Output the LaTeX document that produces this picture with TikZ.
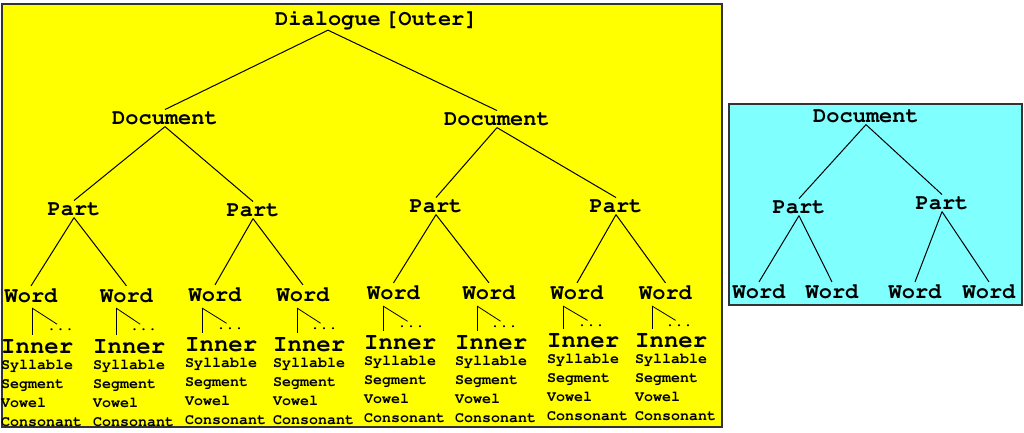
\documentclass[tikz,border=0pt]{standalone}
\usepackage[T1]{fontenc}
\usepackage{courier}
\usepackage{tikz}

\definecolor{outerbg}{HTML}{FFFF00}
\definecolor{docbg}{HTML}{80FFFF}
\newcommand{\unitnames}{Syllable\\Segment\\Vowel\\Consonant}

\tikzset{
  lbl/.style={font=\fontsize{22}{26}\selectfont\ttfamily\bfseries, inner sep=2pt, anchor=base},
  inr/.style={font=\fontsize{24}{28}\selectfont\ttfamily\bfseries, inner sep=0pt, anchor=base west},
  unitlist/.style={font=\fontsize{15}{18.7}\selectfont\ttfamily\bfseries, inner sep=0pt, anchor=base west, align=left},
  more/.style={font=\fontsize{15}{18}\selectfont\ttfamily\bfseries, inner sep=1pt, anchor=base},
  branch/.style={line width=1pt},
  stem/.style={line width=0.8pt, shorten >=4pt}
}

\begin{document}
\begin{tikzpicture}[x=1pt,y=-1pt]
\useasboundingbox (0,0) rectangle (1024,432);
\draw[fill=outerbg, draw=black!80, line width=1.2pt] (2,4) rectangle (722,427);
\draw[fill=docbg, draw=black!80, line width=1.2pt] (729,104) rectangle (1022,305);

% outer tree
\node[lbl] (dlg) at (328,25) {Dialogue};
\node[lbl, anchor=base west] (outer) at (383,25) {[Outer]};
\node[lbl] (doca) at (165,124) {Document};
\node[lbl] (docb) at (497,125) {Document};
\node[lbl] (pa) at (74,215) {Part};
\node[lbl] (pb) at (253,216) {Part};
\node[lbl] (pc) at (436,212) {Part};
\node[lbl] (pd) at (616,212) {Part};
\draw[branch] (dlg.south) -- (doca.north); \draw[branch] (dlg.south) -- (docb.north);
\draw[branch] (doca.south) -- (pa.north); \draw[branch] (doca.south) -- (pb.north);
\draw[branch] (docb.south) -- (pc.north); \draw[branch] (docb.south) -- (pd.north);

% words and what is inside them
\node[lbl] (w1) at (31,302) {Word}; \coordinate (t1) at (32,308); \node[more] (d1) at (60.5,330) {...};
\node[inr] (i1) at (1,353) {Inner}; \node[unitlist] (u1) at ([yshift=-73pt]i1.base west) {\unitnames};
\node[lbl] (w2) at (126.5,302) {Word}; \coordinate (t2) at (116,308); \node[more] (d2) at (143.5,330) {...};
\node[inr] (i2) at (93,353) {Inner}; \node[unitlist] (u2) at ([yshift=-73pt]i2.base west) {\unitnames};
\node[lbl] (w3) at (215,301) {Word}; \coordinate (t3) at (202,308); \node[more] (d3) at (230,329) {...};
\node[inr] (i3) at (185,351) {Inner}; \node[unitlist] (u3) at ([yshift=-73pt]i3.base west) {\unitnames};
\node[lbl] (w4) at (303,301) {Word}; \coordinate (t4) at (297,308); \node[more] (d4) at (324,329) {...};
\node[inr] (i4) at (273,351) {Inner}; \node[unitlist] (u4) at ([yshift=-73pt]i4.base west) {\unitnames};
\node[lbl] (w5) at (393.5,299) {Word}; \coordinate (t5) at (383,306); \node[more] (d5) at (411,327) {...};
\node[inr] (i5) at (364,349) {Inner}; \node[unitlist] (u5) at ([yshift=-73pt]i5.base west) {\unitnames};
\node[lbl] (w6) at (489,299) {Word}; \coordinate (t6) at (477,306); \node[more] (d6) at (504,327) {...};
\node[inr] (i6) at (455,349) {Inner}; \node[unitlist] (u6) at ([yshift=-73pt]i6.base west) {\unitnames};
\node[lbl] (w7) at (577,299) {Word}; \coordinate (t7) at (563,306); \node[more] (d7) at (591,326) {...};
\node[inr] (i7) at (547,347) {Inner}; \node[unitlist] (u7) at ([yshift=-73pt]i7.base west) {\unitnames};
\node[lbl] (w8) at (665.5,299) {Word}; \coordinate (t8) at (652,306); \node[more] (d8) at (679,326) {...};
\node[inr] (i8) at (635,347) {Inner}; \node[unitlist] (u8) at ([yshift=-73pt]i8.base west) {\unitnames};
\draw[branch] (pa.south) -- (w1.north); \draw[branch] (pa.south) -- (w2.north);
\draw[branch] (pb.south) -- (w3.north); \draw[branch] (pb.south) -- (w4.north);
\draw[branch] (pc.south) -- (w5.north); \draw[branch] (pc.south) -- (w6.north);
\draw[branch] (pd.south) -- (w7.north); \draw[branch] (pd.south) -- (w8.north);
\draw[stem] (t1) -- (t1 |- i1.north); \draw[stem] (t1) -- (d1.north);
\draw[stem] (t2) -- (t2 |- i2.north); \draw[stem] (t2) -- (d2.north);
\draw[stem] (t3) -- (t3 |- i3.north); \draw[stem] (t3) -- (d3.north);
\draw[stem] (t4) -- (t4 |- i4.north); \draw[stem] (t4) -- (d4.north);
\draw[stem] (t5) -- (t5 |- i5.north); \draw[stem] (t5) -- (d5.north);
\draw[stem] (t6) -- (t6 |- i6.north); \draw[stem] (t6) -- (d6.north);
\draw[stem] (t7) -- (t7 |- i7.north); \draw[stem] (t7) -- (d7.north);
\draw[stem] (t8) -- (t8 |- i8.north); \draw[stem] (t8) -- (d8.north);

% document tree on its own
\node[lbl] (cdoc) at (866,122) {Document};
\node[lbl] (cpa) at (799,213) {Part};
\node[lbl] (cpb) at (942,209) {Part};
\node[lbl] (cw1) at (759,298) {Word};
\node[lbl] (cw2) at (832,298) {Word};
\node[lbl] (cw3) at (915,298) {Word};
\node[lbl] (cw4) at (989,298) {Word};
\draw[branch] (cdoc.south) -- (cpa.north); \draw[branch] (cdoc.south) -- (cpb.north);
\draw[branch] (cpa.south) -- (cw1.north); \draw[branch] (cpa.south) -- (cw2.north);
\draw[branch] (cpb.south) -- (cw3.north); \draw[branch] (cpb.south) -- (cw4.north);
\end{tikzpicture}
\end{document}
